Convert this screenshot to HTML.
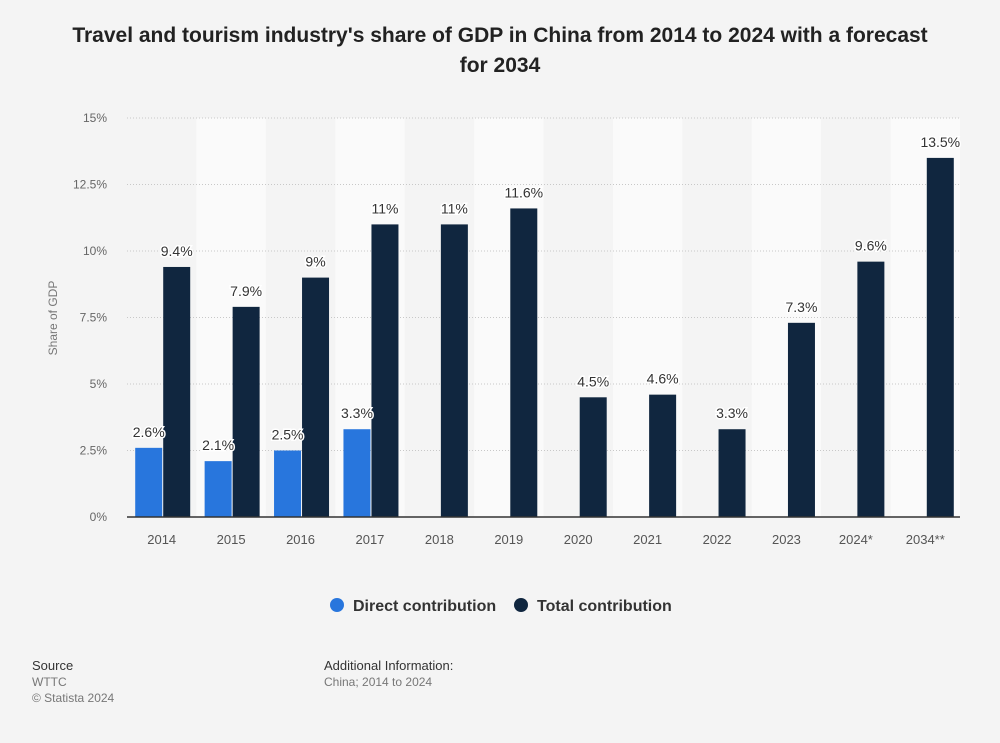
<!DOCTYPE html>
<html><head><meta charset="utf-8"><style>
body{margin:0;background:#f4f4f4;font-family:"Liberation Sans",sans-serif;}
#wrap{position:relative;width:1000px;height:743px;background:#f4f4f4;}
.t{position:absolute;}
</style></head><body>
<div id="wrap">
<div class="t" style="left:0;width:1000px;top:21px;text-align:center;font-size:21px;font-weight:bold;color:#222;line-height:30px;">Travel and tourism industry's share of GDP in China from 2014 to 2024 with a forecast<br>for 2034</div>
<svg id="chart" width="1000" height="743" style="position:absolute;left:0;top:0"></svg>
<div class="t" style="left:330px;top:598px;font-size:16px;font-weight:bold;color:#333;"><span style="display:inline-block;width:14px;height:14px;border-radius:7px;background:#2876dd;vertical-align:-1px;margin-right:9px"></span>Direct contribution</div>
<div class="t" style="left:514px;top:598px;font-size:16px;font-weight:bold;color:#333;"><span style="display:inline-block;width:14px;height:14px;border-radius:7px;background:#10263f;vertical-align:-1px;margin-right:9px"></span>Total contribution</div>
<div class="t" style="left:32px;top:658px;font-size:13px;color:#333;line-height:16px;">Source<br><span style="color:#777;font-size:12px">WTTC<br>© Statista 2024</span></div>
<div class="t" style="left:324px;top:658px;font-size:13px;color:#333;line-height:16px;">Additional Information:<br><span style="color:#777;font-size:12px">China; 2014 to 2024</span></div>
</div>
<script>
const categories=["2014","2015","2016","2017","2018","2019","2020","2021","2022","2023","2024*","2034**"];
const directValues=[2.6,2.1,2.5,3.3,null,null,null,null,null,null,null,null];
const totalValues=[9.4,7.9,9,11,11,11.6,4.5,4.6,3.3,7.3,9.6,13.5];
const yTicks=[0,2.5,5,7.5,10,12.5,15];
const yTickLabels=["0%","2.5%","5%","7.5%","10%","12.5%","15%"];
const totalLabels=["9.4%","7.9%","9%","11%","11%","11.6%","4.5%","4.6%","3.3%","7.3%","9.6%","13.5%"];
const directLabels=["2.6%","2.1%","2.5%","3.3%"];
const NS="http://www.w3.org/2000/svg";
const svg=document.getElementById('chart');
const x0=127,x1=960,y0=517,y1=118;
const bw=(x1-x0)/categories.length;
function y(v){return y0-(v/15)*(y0-y1);}
function xc(i){return x0+bw*(i+0.5);}
function el(t,a){const e=document.createElementNS(NS,t);for(const k in a)e.setAttribute(k,a[k]);svg.appendChild(e);return e;}
categories.forEach((c,i)=>{if(i%2==1){const r=el('rect',{x:x0+bw*i,y:y1,width:bw,height:y0-y1,fill:'#fafafa'});

}});
yTicks.forEach((t,i)=>{const l=el('line',{x1:x0,x2:x1,y1:y(t),y2:y(t),stroke:'#c8c8c8','stroke-dasharray':'1,2'});


const tx=el('text',{x:107,y:y(t)+4,'text-anchor':'end','font-size':12,fill:'#666'});tx.textContent=yTickLabels[i];

});
const yt=el('text',{x:0,y:0,transform:'translate(57,318) rotate(-90)','text-anchor':'middle','font-size':12,fill:'#777'});yt.textContent='Share of GDP';


function lbl(xp,yp,s){const t=el('text',{x:xp,y:yp,'text-anchor':'middle','font-size':14,fill:'#333',stroke:'#fff','stroke-width':3,'paint-order':'stroke'});t.textContent=s;

}
categories.forEach((c,i)=>{
const cx=xc(i);
if(directValues[i]!=null){const r=el('rect',{x:cx-26.5,y:y(directValues[i]),width:27,height:y0-y(directValues[i]),fill:'#2876dd'});

}
const r2=el('rect',{x:cx+1.5,y:y(totalValues[i]),width:27,height:y0-y(totalValues[i]),fill:'#10263f'});


const tx=el('text',{x:cx,y:544,'text-anchor':'middle','font-size':13,fill:'#555'});tx.textContent=c;


});
categories.forEach((c,i)=>{const cx=xc(i);
if(directValues[i]!=null)lbl(cx-13,y(directValues[i])-11,directLabels[i]);
lbl(cx+15,y(totalValues[i])-11,totalLabels[i]);});
const ax=el('line',{x1:x0,x2:x1,y1:y0,y2:y0,stroke:'#333','stroke-width':1.5});


</script>
</body></html>
